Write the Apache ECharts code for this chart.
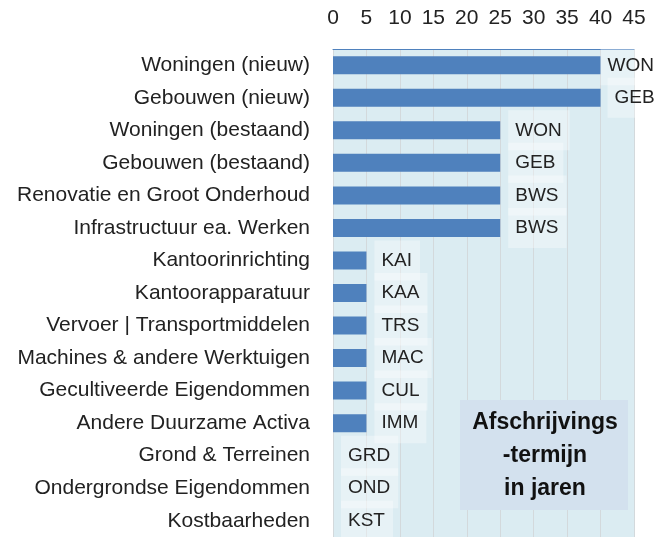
<!DOCTYPE html>
<html>
<head>
<meta charset="utf-8">
<script src="https://cdn.jsdelivr.net/npm/echarts@6/dist/echarts.min.js"></script>
<style>
  html, body { margin: 0; padding: 0; background: #fff; }
  #chart { width: 667px; height: 537px; }
</style>
</head>
<body>
<div id="chart"></div>
<script>
  // categories, top to bottom
  var categories = [
    'Woningen (nieuw)', 'Gebouwen (nieuw)', 'Woningen (bestaand)', 'Gebouwen (bestaand)',
    'Renovatie en Groot Onderhoud', 'Infrastructuur ea. Werken', 'Kantoorinrichting',
    'Kantoorapparatuur', 'Vervoer | Transportmiddelen', 'Machines & andere Werktuigen',
    'Gecultiveerde Eigendommen', 'Andere Duurzame Activa', 'Grond & Terreinen',
    'Ondergrondse Eigendommen', 'Kostbaarheden'
  ];
  var codes = ['WON', 'GEB', 'WON', 'GEB', 'BWS', 'BWS', 'KAI', 'KAA', 'TRS', 'MAC', 'CUL', 'IMM', 'GRD', 'OND', 'KST'];
  var years = [40, 40, 25, 25, 25, 25, 5, 5, 5, 5, 5, 5, 0, 0, 0];
  var xTicks = [0, 5, 10, 15, 20, 25, 30, 35, 40, 45];

  var font = 'Liberation Sans, Arial, sans-serif';

  // bars near the right edge get their label pulled in closer
  var barData = years.map(function (v, i) {
    if (v < 40) return v;
    return { value: v, label: { distance: i === 0 ? 0 : 7 } };
  });

  var chart = echarts.init(document.getElementById('chart'));
  chart.setOption({
    animation: false,
    textStyle: { fontFamily: font },
    grid: {
      left: 333,
      right: 33,
      top: 49,
      bottom: -2,
      show: true,
      backgroundColor: '#dbecf2',
      borderWidth: 0
    },
    xAxis: {
      type: 'value',
      position: 'top',
      min: xTicks[0],
      max: xTicks[xTicks.length - 1],
      interval: 5,
      axisLine: { show: true, lineStyle: { color: '#4f81bd', width: 1 } },
      axisTick: { show: false },
      axisLabel: { color: '#222', fontSize: 21, margin: 20 },
      splitLine: { show: true, lineStyle: { color: '#d3d9dc', width: 1 } }
    },
    yAxis: {
      type: 'category',
      inverse: true,
      data: categories,
      axisLine: { show: false },
      axisTick: { show: false },
      axisLabel: { color: '#222', fontSize: 21, margin: 23 }
    },
    series: [{
      type: 'bar',
      data: barData,
      barWidth: 18,
      itemStyle: { color: '#4f81bd' },
      label: {
        show: true,
        position: 'right',
        distance: 8,
        color: '#222',
        fontSize: 19,
        padding: [11, 8, 10, 7],
        backgroundColor: 'rgba(255,255,255,0.35)',
        formatter: function (p) { return codes[p.dataIndex]; }
      }
    }],
    graphic: [{
      type: 'rect',
      z: 100,
      x: 460,
      y: 400,
      shape: { width: 168, height: 110 },
      style: { fill: '#d3e1ee' }
    }, {
      type: 'text',
      z: 101,
      x: 545,
      y: 456,
      style: {
        text: 'Afschrijvings\n-termijn\nin jaren',
        align: 'center',
        verticalAlign: 'middle',
        font: 'bold 23px ' + font,
        lineHeight: 33,
        fill: '#111'
      }
    }]
  });
</script>
</body>
</html>
